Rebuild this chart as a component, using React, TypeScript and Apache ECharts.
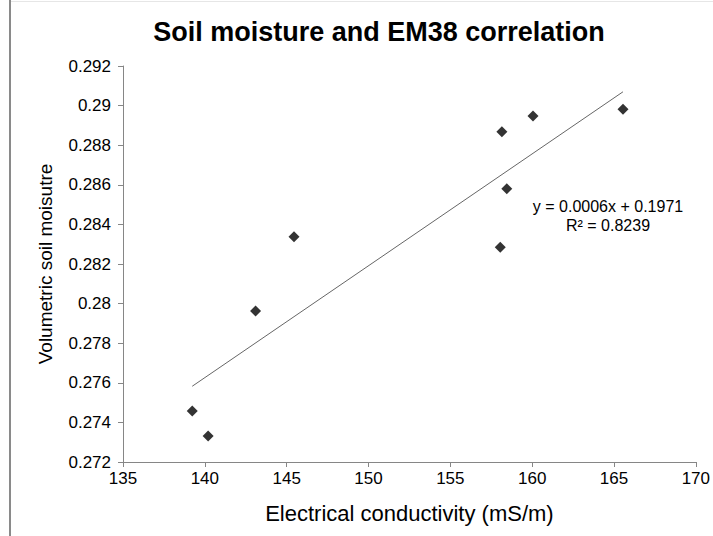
import React, { useEffect, useRef } from "react";
import * as echarts from "echarts";

const titleText = "Soil moisture and EM38 correlation";
const xAxisName = "Electrical conductivity (mS/m)";
const yAxisName = "Volumetric soil moisutre";
const conductivity = [139.23, 140.2, 143.1, 145.45, 158.15, 160.05, 165.55, 158.45, 158.05];
const moisture = [0.27458, 0.27331, 0.27963, 0.28338, 0.28868, 0.28947, 0.28981, 0.2858, 0.28284];
const equationLines = ["y = 0.0006x + 0.1971", "R\u00b2 = 0.8239"];

function regression(xs: number[], ys: number[]) {
  const n = xs.length;
  const mx = xs.reduce((a, b) => a + b, 0) / n;
  const my = ys.reduce((a, b) => a + b, 0) / n;
  let sxy = 0;
  let sxx = 0;
  for (let i = 0; i < n; i++) {
    sxy += (xs[i] - mx) * (ys[i] - my);
    sxx += (xs[i] - mx) * (xs[i] - mx);
  }
  const slope = sxy / sxx;
  return { slope, intercept: my - slope * mx };
}

export default function App() {
  const ref = useRef<HTMLDivElement>(null);
  useEffect(() => {
    if (!ref.current) return;
    const chart = echarts.init(ref.current, null, { renderer: "svg" });
    const { slope, intercept } = regression(conductivity, moisture);
    const xmin = Math.min(...conductivity);
    const xmax = Math.max(...conductivity);
    const font = "Liberation Sans, Arial, sans-serif";
    chart.setOption({
      animation: false,
      backgroundColor: "#fff",
      title: {
        text: titleText,
        left: 374,
        top: 13,
        textAlign: "center",
        textStyle: { fontFamily: font, fontSize: 27, fontWeight: "bold", color: "#000" },
      },
      grid: { left: 123, right: 11, top: 66, bottom: 74, containLabel: false },
      xAxis: {
        type: "value",
        min: 135,
        max: 170,
        interval: 5,
        name: xAxisName,
        nameLocation: "middle",
        nameGap: 40,
        nameTextStyle: { fontFamily: font, fontSize: 22, color: "#000" },
        axisLine: { show: true, lineStyle: { color: "#868686", width: 1 } },
        axisTick: { show: true, length: 5, lineStyle: { color: "#868686" } },
        axisLabel: { fontFamily: font, fontSize: 17, color: "#000", margin: 8 },
        splitLine: { show: false },
      },
      yAxis: {
        type: "value",
        min: 0.272,
        max: 0.292,
        interval: 0.002,
        name: yAxisName,
        nameLocation: "middle",
        nameGap: 68,
        nameRotate: 90,
        nameTextStyle: { fontFamily: font, fontSize: 19, color: "#000" },
        axisLine: { show: true, lineStyle: { color: "#868686", width: 1 } },
        axisTick: { show: true, length: 5, lineStyle: { color: "#868686" } },
        axisLabel: { fontFamily: font, fontSize: 17, color: "#000", margin: 12 },
        splitLine: { show: false },
      },
      series: [
        {
          type: "line",
          data: [
            [xmin, slope * xmin + intercept],
            [xmax, slope * xmax + intercept],
          ],
          symbol: "none",
          lineStyle: { color: "#666", width: 1 },
          z: 1,
        },
        {
          type: "scatter",
          data: conductivity.map((x, i) => [x, moisture[i]]),
          symbol: "diamond",
          symbolSize: 11,
          itemStyle: { color: "#000" },
          z: 2,
        },
      ],
      graphic: [
        { type: "rect", shape: { x: 9, y: 0, width: 2, height: 536 }, style: { fill: "#8a8a8a" } },
        { type: "rect", shape: { x: 11, y: 1, width: 702, height: 1 }, style: { fill: "#e6e6e6" } },
        {
          type: "text",
          x: 608,
          y: 197,
          style: {
            text: equationLines.join("\n"),
            fontFamily: font,
            fontSize: 16,
            lineHeight: 19,
            fill: "#000",
            align: "center",
          },
        },
      ],
    });
    return () => chart.dispose();
  }, []);
  return (
    <div
      ref={ref}
      style={{ position: "fixed", left: 0, top: 0, width: 713, height: 536, background: "#fff" }}
    />
  );
}
